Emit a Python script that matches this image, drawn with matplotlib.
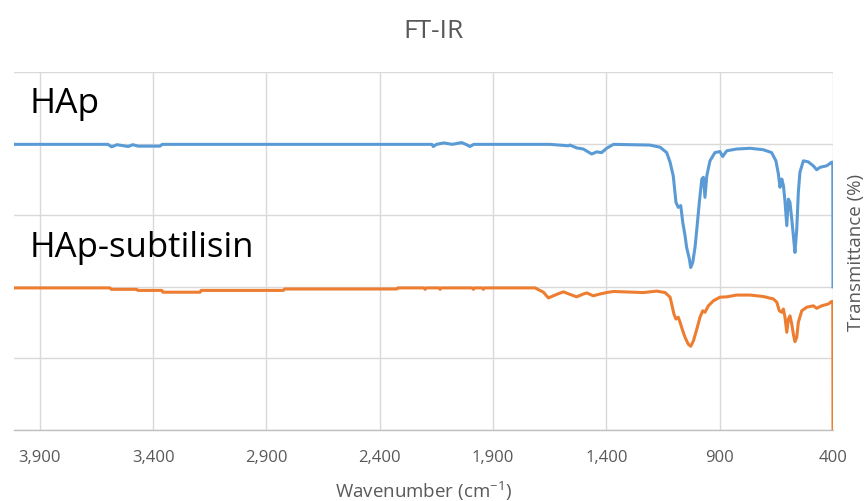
import matplotlib
matplotlib.use("Agg")
import matplotlib.pyplot as plt
from matplotlib.ticker import FuncFormatter

plt.rcParams['font.family'] = ['Open Sans', 'DejaVu Sans']
plt.rcParams['mathtext.fontset'] = 'custom'
plt.rcParams['mathtext.rm'] = 'Open Sans'
plt.rcParams['mathtext.default'] = 'regular'

# wavenumber (cm-1) / transmittance
hap_wn = [4012, 3600, 3583, 3560, 3510, 3490, 3466, 3370, 3360, 2170, 2164, 2150,
          2117, 2080, 2039, 2020, 2002, 1985, 1649, 1568, 1561, 1531, 1502, 1465,
          1443, 1421, 1399, 1369, 1208, 1163, 1134, 1119, 1105, 1093, 1083, 1072,
          1063, 1053, 1046, 1034, 1028, 1019, 1009, 1001, 990, 979, 972, 965, 957,
          943, 921, 899, 887, 869, 825, 766, 708, 671, 652, 641, 634, 626, 619,
          612, 604, 597, 590, 582, 575, 568, 560, 553, 546, 531, 509, 487, 472,
          457, 428, 406, 401, 400]
hap_t = [79.8, 79.8, 79.1, 79.7, 79.2, 79.7, 79.3, 79.3, 79.8, 79.8, 79.2, 79.8,
         80.2, 79.8, 80.3, 79.8, 79.2, 79.8, 79.8, 79.4, 79.6, 78.8, 78.5, 77.1,
         77.7, 77.5, 78.7, 79.8, 79.6, 79.0, 77.5, 74.8, 71.0, 63.6, 62.2, 62.7,
         58.0, 54.3, 51.0, 47.8, 45.4, 46.8, 51.0, 56.1, 63.6, 70.1, 70.6, 65.0, 71.0,
         75.2, 77.5, 77.8, 76.4, 78.0, 78.5, 78.7, 78.3, 77.5, 75.2, 71.5, 67.8, 70.1, 68.3,
         64.0, 57.1, 64.5, 63.6, 58.9, 54.3, 49.6, 56.1, 66.4, 72.0, 75.2, 74.9, 73.8, 72.7,
         73.4, 73.8, 74.8, 74.8, 40.0]

sub_wn = [4012, 3591, 3585, 3473, 3468, 3362, 3357, 3193, 3188, 2826, 2820, 2325,
          2320, 2205, 2200, 2195, 2139, 2134, 2129, 1992, 1987, 1982, 1948, 1943,
          1938, 1715, 1678, 1656, 1619, 1590, 1561, 1531, 1502, 1487, 1458, 1428,
          1399, 1369, 1237, 1178, 1141, 1119, 1112, 1102, 1093, 1083, 1075, 1063,
          1053, 1039, 1028, 1016, 1001, 987, 975, 965, 950, 928, 899, 869, 825, 766,
          708, 663, 648, 637, 626, 619, 612, 604, 597, 590, 582, 575, 568, 560, 553,
          538, 516, 487, 472, 450, 421, 406, 401, 400]
sub_t = [39.7, 39.7, 39.3, 39.3, 39.0, 39.0, 38.5, 38.5, 39.0, 39.0, 39.4, 39.4,
         39.7, 39.7, 39.3, 39.7, 39.7, 39.3, 39.7, 39.7, 39.3, 39.7, 39.7, 39.3,
         39.7, 39.7, 38.5, 36.9, 37.9, 38.6, 37.9, 37.2, 38.0, 38.3, 37.5, 38.0,
         38.4, 38.7, 38.4, 38.8, 38.4, 37.1, 35.2, 32.4, 31.0, 31.5, 30.1, 27.7,
         25.9, 24.0, 23.4, 24.9, 28.2, 31.5, 33.3, 32.9, 34.7, 36.1, 37.1, 37.2, 37.7, 37.7,
         37.3, 36.6, 35.7, 33.3, 32.9, 33.8, 31.5, 27.3, 31.0, 31.9, 29.6, 26.8, 24.7, 25.9, 30.1,
         33.3, 34.3, 34.7, 34.0, 34.7, 35.2, 35.9, 35.9, 0.0]

x_ticks = [3900, 3400, 2900, 2400, 1900, 1400, 900, 400]
y_ticks = [0, 20, 40, 60, 80, 100]

grey = '#595959'

fig = plt.figure(figsize=(8.67, 5.02), dpi=100)
ax = fig.add_axes([0.0162, 0.1414, 0.9446, 0.7131])

ax.plot(hap_wn, hap_t, color='#5B9BD5', linewidth=2.2, solid_joinstyle='round')
ax.plot(sub_wn, sub_t, color='#ED7D31', linewidth=2.2, solid_joinstyle='round')

ax.set_xlim(4014, 400)
ax.set_ylim(0, 100)
ax.set_xticks(x_ticks)
ax.set_yticks(y_ticks)
ax.xaxis.set_major_formatter(FuncFormatter(lambda v, p: f"{int(v):,}"))
ax.set_yticklabels([])
ax.grid(True, color='#d9d9d9', linewidth=1.0)
ax.set_axisbelow(True)
ax.tick_params(axis='both', length=0)
ax.tick_params(axis='x', labelsize=12, labelcolor=grey, pad=14)

for side in ['top', 'left', 'right']:
    ax.spines[side].set_visible(False)
ax.spines['bottom'].set_color('#bfbfbf')
ax.spines['bottom'].set_linewidth(1.0)

ax.set_xlabel('Wavenumber (cm$^{-1}$)', fontsize=13.5, color=grey, labelpad=10)
ax.yaxis.set_label_position('right')
ax.set_ylabel('Transmittance (%)', fontsize=13.5, color=grey, labelpad=10)

ax.text(0.0185, 0.888, 'HAp', transform=ax.transAxes, fontsize=25.5,
        color='black', va='baseline', ha='left')
ax.text(0.0185, 0.486, 'HAp-subtilisin', transform=ax.transAxes, fontsize=25,
        color='black', va='baseline', ha='left')

fig.text(0.5, 1 - 32 / 502, 'FT-IR', fontsize=19, color=grey, ha='center', va='center')

fig.savefig('out.png', dpi=100)
